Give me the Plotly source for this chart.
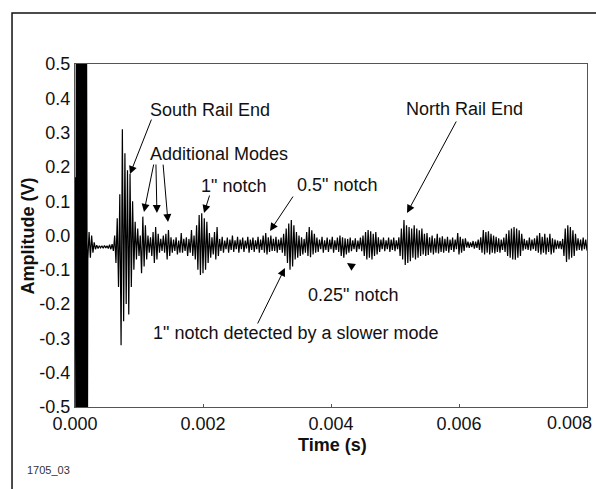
import plotly.graph_objects as go

# ---- data (time in microseconds, amplitude in volts) ----
# saturated excitation pulse at the start (clipped at +/-0.5 V on the chart)
pulse_time_us = [0, 5, 10, 15, 20, 25, 30, 35, 40, 45, 50, 55, 60, 65, 70, 75, 80, 85, 90, 95,
                 100, 105, 110, 115, 120, 125, 130, 135, 140, 145, 150, 155, 160, 165, 170, 175, 180, 185, 190, 195]
pulse_amp_v = [0.17, -0.6, 0.17, -0.6, 0.6, -0.6, 0.6, -0.6, 0.6, -0.6, 0.6, -0.6, 0.6, -0.6, 0.6, -0.6, 0.6, -0.6, 0.6, -0.6,
               0.6, -0.6, 0.6, -0.6, 0.6, -0.6, 0.6, -0.6, 0.6, -0.6, 0.6, -0.6, 0.6, -0.6, 0.6, -0.6, 0.6, -0.6, 0.6, -0.6]

# echo signal after the pulse
echo_time_us = [
    200, 220, 240, 260, 280, 300, 320, 340, 360, 380, 400, 420, 440, 460, 480, 500, 520, 540, 560, 580,
    600, 620, 640, 660, 680, 700, 720, 740, 760, 780, 800, 820, 840, 860, 880, 900, 920, 940, 960, 980, 1000,
    1020, 1040, 1060, 1080, 1100, 1120, 1140, 1160, 1180, 1200, 1220, 1240, 1260, 1280, 1300, 1320, 1340, 1360, 1380, 1400,
    1420, 1440, 1460, 1480, 1500, 1520, 1540, 1560, 1580, 1600, 1620, 1640, 1660, 1680, 1700, 1720, 1740, 1760, 1780, 1800, 1820, 1840, 1860,
    1880, 1900, 1920, 1940, 1960, 1980, 2000, 2020, 2040, 2060, 2080,
    2100, 2120, 2140, 2160, 2180, 2200, 2220, 2240, 2260, 2280, 2300, 2320, 2340, 2360, 2380, 2400, 2420, 2440, 2460, 2480, 2500,
    2520, 2540, 2560, 2580, 2600, 2620, 2640, 2660, 2680, 2700, 2720, 2740, 2760, 2780, 2800, 2820, 2840, 2860, 2880, 2900,
    2920, 2940, 2960, 2980, 3000, 3020, 3040, 3060,
    3080, 3100, 3120, 3140, 3160, 3180, 3200, 3220, 3240,
    3260, 3280, 3300, 3320, 3340, 3360, 3380, 3400, 3420, 3440,
    3460, 3480, 3500, 3520, 3540, 3560, 3580,
    3600, 3620, 3640, 3660, 3680, 3700, 3720, 3740,
    3760, 3780, 3800, 3820, 3840, 3860, 3880, 3900, 3920, 3940, 3960, 3980, 4000, 4020, 4040, 4060, 4080, 4100,
    4120, 4140, 4160, 4180, 4200, 4220, 4240, 4260,
    4280, 4300, 4320, 4340, 4360, 4380, 4400, 4420, 4440, 4460,
    4480, 4500, 4520, 4540, 4560, 4580, 4600, 4620, 4640, 4660, 4680, 4700, 4720,
    4740, 4760, 4780, 4800, 4820, 4840, 4860, 4880, 4900, 4920, 4940, 4960, 4980, 5000, 5020, 5040,
    5060, 5080, 5100, 5120, 5140, 5160, 5180, 5200, 5220, 5240, 5260, 5280,
    5300, 5320, 5340, 5360, 5380, 5400, 5420, 5440, 5460,
    5480, 5500, 5520, 5540, 5560, 5580, 5600, 5620, 5640, 5660, 5680, 5700, 5720, 5740, 5760, 5780,
    5800, 5820, 5840, 5860, 5880, 5900, 5920, 5940, 5960, 5980, 6000, 6020, 6040, 6060, 6080,
    6100, 6120, 6140, 6160, 6180, 6200, 6220, 6240, 6260, 6280, 6300,
    6320, 6340, 6360, 6380, 6400, 6420, 6440, 6460, 6480, 6500, 6520, 6540, 6560, 6580, 6600,
    6620, 6640, 6660, 6680, 6700,
    6720, 6740, 6760, 6780, 6800, 6820, 6840, 6860, 6880, 6900, 6920, 6940, 6960,
    6980, 7000, 7020, 7040, 7060, 7080, 7100, 7120, 7140, 7160, 7180,
    7200, 7220, 7240, 7260, 7280, 7300, 7320, 7340, 7360, 7380, 7400, 7420, 7440, 7460, 7480,
    7500, 7520, 7540, 7560, 7580, 7600,
    7620, 7640, 7660, 7680, 7700, 7720, 7740, 7760, 7780, 7800,
    7820, 7840, 7860, 7880, 7900, 7920, 7940, 7960, 7980, 8000,
]
echo_amp_v = [
    -0.07, 0.01, -0.065, 0.0, -0.05, -0.02, -0.04, -0.028, -0.038, -0.03, -0.036, -0.03, -0.037, -0.029, -0.036, -0.03, -0.038, -0.027, -0.04, -0.025,
    -0.045, 0.0, -0.08, 0.05, -0.15, 0.12, -0.32, 0.31, -0.25, 0.24, -0.2, 0.19, -0.23, 0.18, -0.15, 0.1, -0.1, 0.04, -0.07, 0.02, -0.06,
    0.0, -0.11, 0.055, -0.09, 0.03, -0.07, 0.0, -0.05, -0.005, -0.06, 0.01, -0.08, 0.025, -0.07, 0.005, -0.05, -0.01, -0.045, 0.0, -0.05,
    0.005, -0.07, 0.016, -0.06, -0.005, -0.05, -0.012, -0.045, -0.005, -0.055, -0.015, -0.05, 0.007, -0.05, -0.01, -0.045, -0.005, -0.06, -0.01, -0.05, 0.016, -0.06, 0.0, -0.07,
    0.03, -0.1, 0.06, -0.115, 0.065, -0.11, 0.05, -0.1, 0.04, -0.08, 0.007,
    -0.065, -0.005, -0.055, 0.01, -0.07, 0.025, -0.06, -0.01, -0.045, -0.004, -0.05, -0.015, -0.04, -0.006, -0.05, -0.012, -0.042, 0.0, -0.048, -0.014, -0.04,
    -0.004, -0.05, -0.012, -0.04, -0.006, -0.048, -0.015, -0.038, -0.004, -0.05, -0.012, -0.042, -0.006, -0.048, -0.014, -0.04, -0.004, -0.05, -0.012, -0.042,
    0.0, -0.05, 0.007, -0.055, -0.005, -0.048, 0.0, -0.045,
    -0.01, -0.045, -0.004, -0.05, -0.012, -0.042, -0.006, -0.05, 0.005,
    -0.06, 0.02, -0.08, 0.035, -0.1, 0.045, -0.09, 0.03, -0.07, 0.01,
    -0.065, 0.0, -0.06, -0.005, -0.055, -0.01, -0.05,
    0.01, -0.06, 0.025, -0.063, 0.015, -0.055, 0.005, -0.05,
    -0.006, -0.048, -0.012, -0.04, -0.004, -0.05, -0.014, -0.042, -0.006, -0.048, -0.012, -0.04, -0.004, -0.05, -0.014, -0.042, -0.006, -0.048,
    0.0, -0.06, -0.005, -0.065, -0.008, -0.055, -0.01, -0.05,
    -0.006, -0.046, -0.014, -0.04, -0.008, -0.048, -0.015, -0.04, -0.006, -0.046,
    0.0, -0.06, 0.01, -0.07, 0.016, -0.065, 0.012, -0.07, 0.005, -0.06, 0.01, -0.055, -0.005,
    -0.048, -0.012, -0.04, -0.006, -0.046, -0.014, -0.04, -0.006, -0.048, -0.012, -0.042, -0.006, -0.046, -0.014, -0.04, -0.005,
    -0.06, 0.02, -0.07, 0.045, -0.086, 0.03, -0.08, 0.025, -0.075, 0.02, -0.065, 0.03,
    -0.07, 0.02, -0.065, 0.015, -0.06, 0.02, -0.055, 0.005, -0.06,
    0.007, -0.057, -0.005, -0.05, 0.0, -0.055, -0.008, -0.05, 0.005, -0.052, -0.006, -0.048, -0.002, -0.05, -0.01, -0.045,
    -0.004, -0.05, -0.012, -0.042, -0.006, -0.048, -0.012, -0.04, 0.007, -0.055, -0.004, -0.05, -0.01, -0.045, -0.008,
    -0.035, -0.018, -0.036, -0.02, -0.034, -0.016, -0.038, -0.018, -0.036, -0.012, -0.042,
    -0.005, -0.05, 0.016, -0.055, 0.01, -0.05, 0.012, -0.055, 0.005, -0.05, 0.0, -0.052, -0.004, -0.048, -0.008,
    -0.05, -0.012, -0.042, -0.006, -0.048,
    0.005, -0.06, 0.015, -0.065, 0.02, -0.07, 0.025, -0.071, 0.02, -0.065, 0.015, -0.06, 0.005,
    -0.044, -0.01, -0.04, -0.014, -0.042, -0.006, -0.044, -0.012, -0.04, -0.008, -0.045,
    0.0, -0.05, 0.007, -0.055, -0.004, -0.05, 0.005, -0.055, -0.006, -0.048, 0.005, -0.055, -0.008, -0.05, -0.012,
    -0.04, -0.015, -0.038, -0.016, -0.04, -0.01,
    -0.06, 0.02, -0.077, 0.03, -0.07, 0.025, -0.065, 0.015, -0.06, 0.005,
    -0.044, -0.008, -0.042, -0.012, -0.044, -0.006, -0.04, -0.012, -0.044, -0.01,
]

x_tick_vals = [0.0, 0.002, 0.004, 0.006, 0.008]
x_tick_text = ["0.000", "0.002", "0.004", "0.006", "0.008"]
y_tick_vals = [0.5, 0.4, 0.3, 0.2, 0.1, 0.0, -0.1, -0.2, -0.3, -0.4, -0.5]
y_tick_text = ["0.5", "0.4", "0.3", "0.2", "0.1", "0.0", "-0.1", "-0.2", "-0.3", "-0.4", "-0.5"]

time_s = [t / 1e6 for t in pulse_time_us + echo_time_us]
amp = pulse_amp_v + echo_amp_v

# the last x label is pulled in from the right edge (as in the reference): drawn right-aligned below
x_tick_shown = x_tick_text[:-1] + [""]

FONT = "Liberation Sans, Arial, sans-serif"

fig = go.Figure()
fig.add_trace(go.Scatter(
    x=time_s, y=amp, mode="lines",
    line=dict(color="black", width=1.2),
    hoverinfo="skip", showlegend=False,
))

ann = []
def label(text, x, y):
    ann.append(dict(x=x, y=y, xref="x", yref="y", text=text, showarrow=False,
                    xanchor="center", yanchor="middle",
                    font=dict(family=FONT, size=18, color="#111")))

def arrow(x, y, ax, ay):
    ann.append(dict(x=x, y=y, xref="x", yref="y", ax=ax, ay=ay, text="",
                    showarrow=True, arrowhead=2, arrowsize=1.6, arrowwidth=1,
                    arrowcolor="black", standoff=0, startstandoff=0))

label("South Rail End", 0.00211, 0.366)
arrow(0.000859, 0.179, 22, -56)
label("Additional Modes", 0.00225, 0.238)
arrow(0.001078, 0.0685, 10, -49)
arrow(0.00128, 0.0656, -1, -50)
arrow(0.001453, 0.039, -5, -59)
label("1\" notch", 0.00247, 0.144)
arrow(0.002016, 0.0656, 6, -19)
label("0.5\" notch", 0.00409, 0.147)
arrow(0.003047, 0.013, 24, -36)
label("North Rail End", 0.00609, 0.369)
arrow(0.005188, 0.0656, 50, -93)
label("0.25\" notch", 0.004344, -0.173)
arrow(0.00425, -0.080, 6, 4)
label("1\" notch detected by a slower mode", 0.003453, -0.284)
arrow(0.00328, -0.0948, -28, 57)

ann.append(dict(x=x_tick_vals[-1], y=-0.0466, xref="x", yref="paper", text=x_tick_text[-1],
                xanchor="right", yanchor="middle", xshift=7,
                showarrow=False, font=dict(family=FONT, size=18, color="#111")))
ann.append(dict(x=-0.0918, y=0.5, xref="paper", yref="paper", text="<b>Amplitude (V)</b>",
                xanchor="center", yanchor="middle",
                textangle=-90, showarrow=False, font=dict(family=FONT, size=18, color="#111")))
ann.append(dict(x=0.502, y=-0.1108, xref="paper", yref="paper", text="<b>Time (s)</b>",
                xanchor="center", yanchor="middle",
                showarrow=False, font=dict(family=FONT, size=18, color="#111")))
ann.append(dict(x=-0.0527, y=-0.1837, xref="paper", yref="paper", text="1705_03",
                xanchor="center", yanchor="middle",
                showarrow=False, font=dict(family=FONT, size=11, color="#333")))

fig.update_layout(
    width=596, height=489,
    margin=dict(l=75, r=9, t=64, b=82, autoexpand=False),
    paper_bgcolor="white", plot_bgcolor="white",
    annotations=ann,
    shapes=[dict(type="rect", xref="paper", yref="paper", x0=-0.123, x1=1.5, y0=-1.0, y1=1.1487,
                 line=dict(color="#111", width=1.5), layer="below")],
    xaxis=dict(range=[0, 0.008], tickvals=x_tick_vals, ticktext=x_tick_shown,
               automargin=False,
               showgrid=False, zeroline=False, showline=True, mirror=True,
               linecolor="#555", linewidth=1, ticks="inside", ticklen=3, tickcolor="#555",
               ticklabeloverflow="allow",
               tickfont=dict(family=FONT, size=18, color="#111")),
    yaxis=dict(range=[-0.5, 0.5], tickvals=y_tick_vals, ticktext=y_tick_text,
               automargin=False,
               showgrid=False, zeroline=False, showline=True, mirror=True,
               linecolor="#555", linewidth=1, ticks="",
               tickfont=dict(family=FONT, size=18, color="#111")),
)

fig.write_html("out.html", config={"displayModeBar": False},
               post_script="document.body.style.margin='0px';")
